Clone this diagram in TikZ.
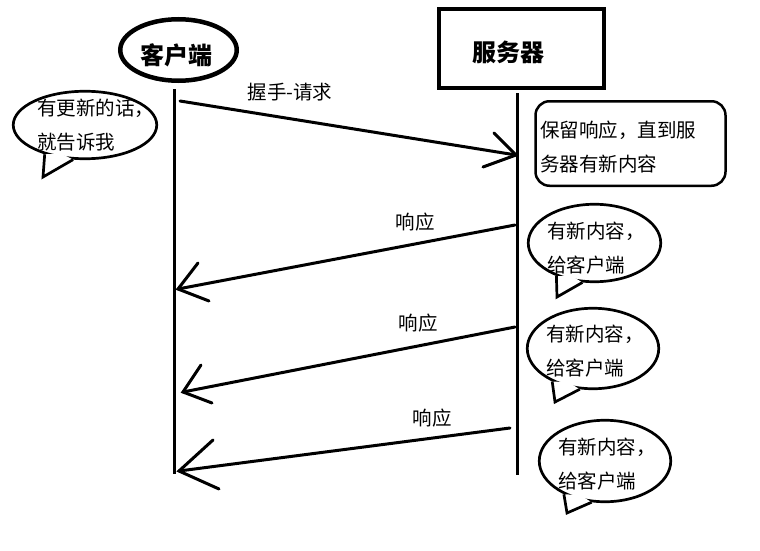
\documentclass[tikz,border=0pt]{standalone}
\usepackage{fontspec}
\newfontfamily\cjk{Noto Sans CJK SC}
\usetikzlibrary{shapes.geometric,calc}
\newcommand{\bubtail}[4]{%
  \fill[white] (#1.#2) -- (#3) -- (#1.#4) -- ($($(#1.#2)!0.5!(#1.#4)$)!4pt!(#1.center)$) -- cycle;
  \draw[bubline] (#1.#2) -- (#3) -- (#1.#4);}
\begin{document}
\begin{tikzpicture}[x=1pt,y=-1pt,
  txt/.style={font=\cjk\fontsize{19.5}{34}\selectfont, align=left, inner sep=0},
  lbl/.style={font=\cjk\fontsize{19.5}{22}\selectfont, inner sep=0},
  head/.style={font=\cjk\bfseries\fontsize{24}{26}\selectfont, inner sep=0},
  life/.style={line width=3pt},
  msg/.style={line width=3pt, line cap=round},
  bubline/.style={line width=2.7pt, line join=miter},
  bubble/.style={draw, ellipse, line width=2.7pt, inner sep=0, fill=white},
]
\useasboundingbox (0,0) rectangle (760,551);
\fill[white] (0,0) rectangle (760,551);

% headers
\node[draw, ellipse, line width=4.5pt, minimum width=116.5, minimum height=61.5, inner sep=0] (client) at (178.5,50) {};
\node[head] (clientlbl) at (176,55) {客户端};
\node[draw, line width=4pt, minimum width=165, minimum height=79, inner sep=0] (server) at (521.5,48.5) {};
\node[head] (serverlbl) at (508,52) {服务器};

% lifelines
\coordinate (c0) at (174,89);
\coordinate (c1) at (174,474);
\coordinate (s0) at (517,93);
\coordinate (s1) at (517,475);
\draw[life] (c0) -- (c1);
\draw[life] (s0) -- (s1);

% request
\coordinate (rq0) at (180,101);
\coordinate (rq1) at (516,155);
\draw[msg] (rq0) -- (rq1);
\draw[msg] (rq1) ++(-22,-22) -- (rq1) -- ++(-33,12);
\node[lbl] (rqlbl) at (290,92) {握手-请求};

% responses
\coordinate (r1a) at (515,225);
\coordinate (r1b) at (178,289);
\draw[msg] (r1a) -- (r1b);
\draw[msg] (r1b) ++(20,-26) -- (r1b) -- ++(31,12);
\node[lbl] (r1lbl) at (415,222) {响应};

\coordinate (r2a) at (515,327);
\coordinate (r2b) at (183,392);
\draw[msg] (r2a) -- (r2b);
\draw[msg] (r2b) ++(18,-27) -- (r2b) -- ++(29,11);
\node[lbl] (r2lbl) at (418,323) {响应};

\coordinate (r3a) at (510,428);
\coordinate (r3b) at (179,471);
\draw[msg] (r3a) -- (r3b);
\draw[msg] (r3b) ++(34,-31) -- (r3b) -- ++(40,18);
\node[lbl] (r3lbl) at (432,418) {响应};

% server note
\node[draw, rounded corners=14pt, line width=2.5pt, minimum width=190, minimum height=84.5, inner sep=0] (note) at (630.5,143.5) {};
\node[txt, anchor=west] (notetxt) at (540,147.5) {保留响应，直到服\\务器有新内容};

% client bubble
\node[bubble, minimum width=143.5, minimum height=67.5] (cb) at (85,125) {};
\coordinate (cbt) at (43,177);
\bubtail{cb}{-144}{cbt}{-109}
\node[txt, anchor=west] (cbtxt) at (37,125) {有更新的话，\\就告诉我};

% server bubbles
\node[bubble, minimum width=132.5, minimum height=77.5] (b1) at (594.5,243) {};
\coordinate (b1t) at (557,297);
\bubtail{b1}{-139}{b1t}{-107}
\node[txt, anchor=west] (b1txt) at (547,248.5) {有新内容，\\给客户端};

\node[bubble, minimum width=131.5, minimum height=80.5] (b2) at (593,348.5) {};
\coordinate (b2t) at (555,402);
\bubtail{b2}{-141}{b2t}{-108}
\node[txt, anchor=west] (b2txt) at (546,351) {有新内容，\\给客户端};

\node[bubble, minimum width=131.5, minimum height=81.5] (b3) at (605,461) {};
\coordinate (b3t) at (567,513);
\bubtail{b3}{-141}{b3t}{-108}
\node[txt, anchor=west] (b3txt) at (558,464.5) {有新内容，\\给客户端};
\end{tikzpicture}
\end{document}
